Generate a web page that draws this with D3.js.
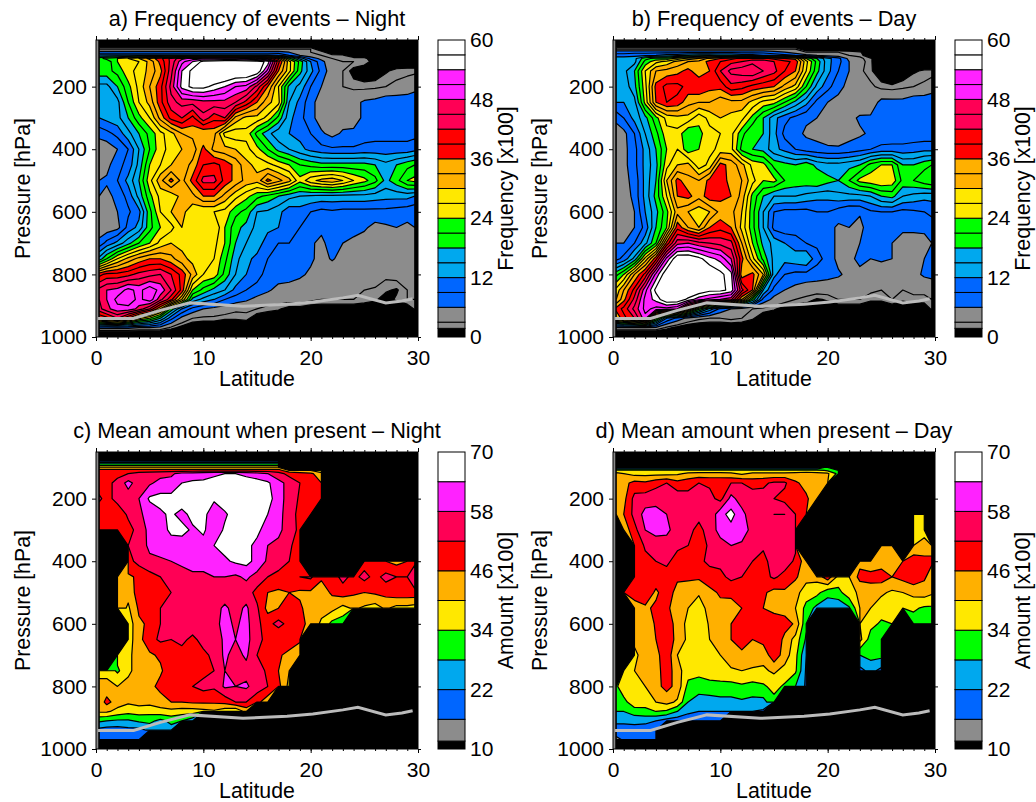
<!DOCTYPE html>
<html>
<head>
<meta charset="utf-8">
<script src="https://cdn.jsdelivr.net/npm/d3@7"></script>
<style>
body { margin: 0; background: #fff; }
text { font-family: "Liberation Sans", Arial, sans-serif; fill: #000; }
</style>
</head>
<body>
<script>
const n = null; // no data

const latitudes = [0.3,1,2,3,4,5,6,7,8,9,10,11,12,13,14,15,16,17,18,19,20,21,22,23,24,25,26,27,28,29,29.7];
const pressures = [70,80,90,100,110,120,150,200,250,300,350,400,450,500,550,600,650,700,750,800,850,880,910,940,970,985];

// rows follow pressures, columns follow latitudes; short rows are padded on the right
const freqNight = [
[],
[3,3,3,3,3,3,3,3,3,3,3,3,3,3,3,3,3,3,3,3,3],
[7,7,7,7,7,7,7,7,7,7,7,7,7,7,7,7,7,7,6,4,3,2.5],
[13,13,13,13,13,13,13,13,13,13,13,13,13,13,13,13,13,12,9,6,4,3,2.3,2],
[20,22,24,27,30,34,38,43,47,49,50,50,50,50,48,46,42,34,22,14,8,5,3,2.5,2.5,2.3],
[19,19,24,25,27,31,37,43,50,54,58,59,60,60,60,59,56,40,28,20,12,7,3.5,3,3,2.5,1],
[20,20,22,26,28,31,35,44,54,58,62,63,63,62,62,60,50,36,28,19,13,8,4,3,1,0.5,0.5,1.5,2.3,2.5,2.5],
[14,14,18,23,28,33,38,46,55,58,58,56,54,51,50,44,36,27,17,14,9,6,3.5,3,2.5,2.3,2.5,3,3.5,4,5],
[13,13,14,21,27,31,38,44,46,46,47,47,47,45,41,36,31,28,15,11,7,4.5,4,4,5,6.5,7,8,8,8,8],
[12,13,14,18,23,27,34,40,42,38,44,40,42,32,29,29,26,20,13,10,7,4.5,4,4.5,5,6.5,7,7.5,8,8,8],
[7,8,10,14,18,22,26,29,33,34,33,34,26,25,26,20,16,13,12,11,9,6.5,5,6.5,6.5,7.5,8,8,8,8,8],
[4,4,6,9,15,21,26,28,30,31,37,32,31,30,28,25,21,17,15,13,11,10,9.5,9.5,9.5,10,10,10,10,10,11],
[4,5,8,10,16,24,27,30,31,34,39,40,38,35,31,29,28,26,24,21,20,19,19,19,19,19,18,16,18,20,21],
[6,6.5,9,13,18,26,32,37,32,37,43,43,38,35,32,31,37,34,31,25,29,31,32,30,27,25,22,17,20,24,25],
[6,5,7,10,16,23,28,28,31,32,36,36,32,28,25,22,20,18,16,15,14.5,14,14,14,14,14,13.5,13,13,13,12],
[4,4,6,8.5,11,20,27,30,31,28,27,27,26,22,20,15,14.5,13,10,10.5,9,8,8.5,8,8,8,8,8,7.5,7,6.5],
[4,4,5,10,13,20,24,26,30,27,28,30,24,19,17,14,13,12,10,9,8,6.5,7.5,7,7.5,6.5,5,5.5,6,5.5,6],
[7,10,13,17,21,24,28,30,29,28,27,28,24,18,15,14,10,9,9,8,6.3,5.5,7,6,5,4.5,4.5,5,5.5,5,5],
[16,21,27,31,34,36,36,34,31,29,27,27,22,16,13,11,9,8.5,8,7,6.5,5,6.3,5,4,4,3,4,4,3,4],
[38,40,40,41,43,44,45,42,38,32,27,26,20,15,12,10,8,7.5,7,6.5,5.5,5,4,4,5,4,4,3.5,4,3.5,4],
[46,48,49,52,50,53,50,45,38,24,20,17,15,11,9,8,6.5,5,5,4.5,4.5,4,3.5,3.5,3.5,3,2.8,2,1.5,3,4],
[45,48,52,53,50,53,46,40,30,17,14,12,9,7.5,6.5,5,4,4,4,4,3.5,3,3,3,3,2.5,2,1,2,3,3],
[44,47,50,50,47,42,33,20,12,8,6,5,4.5,3.5,3.5,3,2.5,2,1,1,0.5,0.5,0.5,0.5,0.5,0.5,0.5,0.5,0.5,0.5,2],
[36,38,42,36,28,24,18,10,5,3,2.5,2.5,2,2,2.3,0.5,0,0,0,1,0,0,0,0,0,0,0,0,0,0,1.5],
[7,7,7,7,6,6,5,2.5,1],
[]
];

const freqDay = [
[],
[3,3,3,3,3,3,3,3,3,3,3,3,3,3,3,3,3,3],
[8,8,8,8,8,8,8,8,8,8,8,8,8,8,8,7,6,4,3,3,3,3,2.5,2],
[10,10,11,11,12,13,14,15,16,16,15,15,14,13,12,11,10,9,7,6,5,4,3,2.5],
[14,14,14,20,22,22,25,28,30,34,36,38,40,40,40,38,36,35,24,18,13,10,5,3.5,2],
[13,13,14,22,26,28,31,33,34,37,39,41,42,44,44,42,40,38,28,20,13,10,6,4,2],
[13,14,18,27,33,34,35,37,34,36,42,46,47,48,45,43,39,36,27,19,13,9,6,3.5,2,0.5,0,0.5,1.5,2,2],
[12,13,17,26,37,40,40,38,39,37,37,41,40,38,37,36,32,29,21,14,10,7,5,4,3.5,2.3,2,2.5,3,3.5,4.5],
[12,12,14,25,36,39,38,34,33,33,31,32,32,29,26,25,21,17,13,8,6,5,4,3.5,4,7,7,7,8,8,8],
[7,9,13,17,23,28,29,29,25,28,30,29,28,23,18,13,10,8,6.5,6,5,5,5,6.5,6.5,7,7,6,7,7,8],
[4,5,9,15,20,26,26,21,23,26,27,28,22,18,18,13,8,7,5.5,5,4.5,4,5,5.5,6.5,6.5,7,7,7,7,7],
[5,5,8,13,18,24,27,22,24,26,28,28,20,18,17,13,11,9,7.5,7,6.5,6.5,7,8,9,10,10,10,10.5,11,11],
[4,5,8,13,17,26,30,31,25,28,37,35,31,26,25,20,19,18,20,17,16,16,17,18,22,24,24,18,18,20,21],
[5,5,7,13,18,30,37,34,33,37,39,34,33,28,24,25,21,20,20,21,19,18,21,25,26,27,26,20,21,23,24],
[4,4,7,13,19,27,36,37,34,38,37,36,32,23,18,15,15,15,14,13,13,14,14,14,15,18,19,15,14,13,13],
[3,3,6,12,17,23,32,30,28,30,34,34,30,22,15,9,8,8,8,9,9,7.5,6,6.2,8.5,9,9,8,8.5,9,10],
[4,4,6,10,18,24,38,33,30,36,38,36,29,22,15,8,7,8,7,8,7,5.5,6,5.5,7,6,6.5,6.5,6.5,7,7],
[6,6,9,14,21,37,47,48,46,45,44,43,33,24,17,14,12,10,9,8.5,7,5.5,5,6,7,6.5,6,5,5,4.5,6],
[8,10,16,28,38,52,60,60,58,55,53,48,37,28,20,14,13,14,15,10,8,5,5,7,6,6.5,6,4.5,5,6,7],
[20,24,33,40,52,60,66,66,65,60,58,55,34,37,30,13,9,8,8,7.5,7,6.5,5,5,5,4,4,4,5,6.5,7],
[28,33,40,50,58,62,65,62,60,58,58,56,43,36,15,8,6,5,4,4,4,3.5,3.5,3.5,3.5,3,3,3,3.5,3.5,3.5],
[30,35,43,52,55,60,60,56,52,50,48,46,33,20,8,5,4,3,2.5,1.5,2,3,3,3,2,2,3,2,2.5,2.5,3],
[37,40,46,52,50,50,48,35,22,14,8,6,4.5,3,2.5,2,1,0.5,0.5,0.5,0.5,0.5,0.5,0.5,0.5,0.5,0.5,0.5,0.5,0.5,2],
[33,38,42,50,25,12,8,5,3.5,3,3,3.5,3,2,0.5,0,0,0,0,0,0,0,0,0,0,0,0,0,0,0,1],
[6,6,6,6,5.5,2.5,1],
[]
];

const amountNight = [
[],
[16,16,16,16,16,16,16,16,16,16,16,16,16,16,16,16,16,16],
[30,30,30,30,30,30,30,30,30,30,30,30,30,30,30,30,30,30],
[41,41,41,41,41,41,41,41,41,41,41,41,41,41,41,41,41,41],
[49,49,49,49,49,49,49,49,49,49,49,49,49,49,49,49,49,49,41,42,40,33],
[47,48,50,52,54,55,56,57,60,61,62,63,64,64,62,60,58,54,50,48,47,43],
[49,50,54,60,55,57,60,60,64,65,65,66,67,68,68,67,65,60,56,52,49,46],
[53,50,54,55,58,65,66,66,68,64,66,65,68,68,68,67,67,60,56,51,50,47],
[48,50,48,53,57,60,63,65,62,66,66,60,63,67,67,66,64,60,55,50,46],
[49,48,48,50,54,60,62,65,66,63,65,60,65,66,64,65,62,59,56,50],
[n,n,n,52,53,60,61,62,61,63,62,64,66,67,65,63,58,57,53,49],
[n,n,n,50,54,56,57,58,59,60,60,60,63,65,66,62,57,55,52,48,n,n,n,n,n,49,50,46,44,46,50],
[n,n,44,45,47,50,52,53,56,57,57,58,58,57,59,56,52,50,50,52,53,47,49,54,50,54,50,54,52,52,58],
[n,n,43,42,49,47,49,52,54,54,54,53,55,57,55,50,46,45,46,45,45,43,47,49,47,46,47,48,50,50,50],
[n,n,44,39,47,50,52,54,55,55,54,56,59,56,59,53,44,46,48,47,43,42,42,38,41,39,37,41,38,38,37],
[n,n,n,36,45,47,52,55,58,57,58,56,60,57,60,53,50,54,50,48,44,39,32,30],
[n,n,n,37,44,50,53,52,54,50,55,52,60,58,60,54,50,46,50,47],
[n,n,36,38,44,45,47,50,49,52,50,54,59,56,59,52,48,47,44,42],
[38,38,33,38,44,44,45,50,47,50,50,52,58,54,56,57,50,46,40],
[42,42,40,43,44,44,48,48,50,52,54,53,59,58,59,55,52,48,38],
[42,48,43,41,42,42,43,46,46,47,47,47,48,52,52,48,42],
[41,41,38,36,37,36,38,38,37,37,38,39,36,34,42],
[29,28,27,27,29,30,26,30,28,24],
[20,19,19,20,20,23,24,25],
[19,19,17,18,20],
[]
];

const amountDay = [
[],
[],
[],
[17,17,17,17,17,17,17,17,17,17,17,17,17,17,17,17,17,17,17,17,33],
[36,36,36,36,36,36,36,36,36,36,36,36,36,36,36,36,36,36,36,36,33,28],
[42,40,38,38,38,38,39,41,42,42,42,41,39,41,41,41,41,42,43,42,41,32],
[43,44,48,47,50,52,48,50,52,51,51,52,52,50,51,53,53,47,44,43,41],
[46,44,54,55,56,57,56,54,54,54,50,60,55,55,54,52,50,50,47,42],
[42,46,54,60,60,58,54,56,54,53,62,66,60,54,56,58,58,52,46,n,n,n,n,n,n,n,n,n,38,38],
[n,42,50,58,60,59,56,54,50,55,60,62,61,56,52,54,56,53,n,n,n,n,n,n,n,n,n,n,38,38],
[n,n,46,53,55,56,54,52,49,53,56,58,57,55,53,53,55,53,n,n,n,n,n,n,n,46,44,n,40,42,44],
[n,n,46,50,52,54,48,50,51,53,53,55,56,52,50,55,55,51,42,n,n,n,n,44,42,43,42,46,50,48,47],
[n,n,46,50,49,48,47,47,47,50,51,53,52,50,50,53,50,47,42,42,50,38,40,48,48,49,46,48,50,47,43],
[n,46,47,50,45,49,44,43,41,44,47,49,50,52,47,44,45,42,37,36,30,32,38,41,43,41,39,40,42,43,41],
[n,n,45,45,47,48,41,40,36,43,44,41,46,50,46,43,43,40,32,26,24,23,27,40,40,37,36,36,35,33,33],
[n,n,43,41,47,52,42,39,34,41,44,46,52,48,47,52,49,45,29,n,n,n,n,40,36,33,34,n,31,32,30],
[n,n,42,44,46,52,43,39,37,40,43,46,52,46,48,52,44,38,27,n,n,n,n,42,31,33],
[n,n,38,44,44,50,40,37,36,36,40,44,43,44,42,50,43,36,22,n,n,n,n,28,30,30],
[n,34,40,44,43,50,42,37,36,37,38,39,40,39,39,41,38,35,21,n,n,n,n,20,24,20],
[33,38,38,40,44,48,44,32,31,32,32,32,33,32,33,36,33,28,21],
[29,32,38,37,40,42,39,28,25,25,26,26,27,26,26,32],
[28,28,31,32,34,33,28,23,22,22,22,23,22,22,21],
[23,23,24,24,22,19,18,19,18,19,17],
[20,20,19,18,18],
[14,17,17,16,16],
[]
];

// grey line drawn over every panel
const lineLat = [0,3.5,6,8.75,13.7,17.8,20.2,23,24.4,27,28.5,29.5];
const linePres = [941,941,915,891,902,895,888,875,867,891,885,878];

const freqLevels = [0,1.75,3,6,9,12,15,18,21,24,27,30,33,36,39,42,45,48,51,54,57,60];
const freqColors = ["#000000","#8c8c8c","#8c8c8c","#0066ff","#0066ff","#00a8ee","#00a8ee","#00ff00","#00ff00","#ffe800","#ffe800",
    "#ffb000","#ffb000","#ff0000","#ff0000","#ff0055","#ff0055","#ff22ff","#ff22ff","#ffffff","#ffffff"];
const freqTicks = [0,12,24,36,48,60];

const amtLevels = [10,11.6,16,22,28,34,40,46,52,58,64,70];
const amtColors = ["#000000","#8c8c8c","#0066ff","#00a8ee","#00ff00","#ffe800","#ffb000","#ff0000","#ff0055","#ff22ff","#ffffff"];
const amtTicks = [10,22,34,46,58,70];

const latTicks = [0,10,20,30];
const presTicks = [200,400,600,800,1000];

const panels = [
    {title: "a) Frequency of events \u2013 Night", grid: freqNight, fill: 0, lv: freqLevels, col: freqColors, tk: freqTicks, lab: "Frequency [x100]", x: 96, y: 40},
    {title: "b) Frequency of events \u2013 Day", grid: freqDay, fill: 0, lv: freqLevels, col: freqColors, tk: freqTicks, lab: "Frequency [x100]", x: 613, y: 40},
    {title: "c) Mean amount when present \u2013 Night", grid: amountNight, fill: n, lv: amtLevels, col: amtColors, tk: amtTicks, lab: "Amount [x100]", x: 96, y: 452},
    {title: "d) Mean amount when present \u2013 Day", grid: amountDay, fill: n, lv: amtLevels, col: amtColors, tk: amtTicks, lab: "Amount [x100]", x: 613, y: 452}
];

const W = 322, H = 297;
const svg = d3.select("body").append("svg").attr("width", 1036).attr("height", 802);

panels.forEach(function(p, k) {
    let g = svg.append("g").attr("transform", `translate(${p.x},${p.y})`);
    let x = d3.scaleLinear().domain([0, 30]).range([0, W]);
    let y = d3.scaleLinear().domain([1000, 51]).range([H, 0]);

    let nx = latitudes.length, ny = pressures.length;
    let iLat = d3.scaleLinear().domain(d3.range(nx)).range(latitudes).clamp(true);
    let iPres = d3.scaleLinear().domain(d3.range(ny)).range(pressures).clamp(true);
    let path = d3.geoPath(d3.geoTransform({
        point: function(a, b) { this.stream.point(x(iLat(a - 0.5)), y(iPres(b - 0.5))); }
    }));

    g.append("clipPath").attr("id", "clip" + k).append("rect").attr("width", W).attr("height", H);
    let plot = g.append("g").attr("clip-path", `url(#clip${k})`);
    plot.append("rect").attr("width", W).attr("height", H).attr("fill", "#000");

    let values = p.grid.map(r => r.concat(Array(nx - r.length).fill(p.fill))).flat();
    let contours = d3.contours().size([nx, ny]).thresholds(p.lv.slice(1, -1))(values);
    plot.selectAll("path.c").data(contours).enter().append("path")
        .attr("class", "c")
        .attr("d", path)
        .attr("fill", (d, i) => p.col[i + 1])
        .attr("stroke", "#000")
        .attr("stroke-width", 1.2)
        .attr("stroke-linejoin", "round");

    let line = d3.line().x(d => x(d[0])).y(d => y(d[1]));
    plot.append("path")
        .attr("d", line(d3.zip(lineLat, linePres)))
        .attr("fill", "none").attr("stroke", "#bbbbbb").attr("stroke-width", 3);

    // left edge bar
    plot.append("line").attr("x1", 1).attr("x2", 1).attr("y1", 0).attr("y2", H)
        .attr("stroke", "#888").attr("stroke-width", 2.5);

    g.append("rect").attr("width", W).attr("height", H).attr("fill", "none").attr("stroke", "#000").attr("stroke-width", 1);

    // ticks point outward on all four sides, minor ticks every degree
    g.append("g").attr("transform", `translate(0,${H})`).style("font-size", "21px")
        .call(d3.axisBottom(x).tickValues(latTicks).tickSizeInner(4).tickSizeOuter(0).tickPadding(9));
    g.append("g").style("font-size", "21px")
        .call(d3.axisLeft(y).tickValues(presTicks).tickFormat(d => d).tickSizeInner(4).tickSizeOuter(0).tickPadding(5));
    g.append("g").attr("transform", `translate(0,${H})`)
        .call(d3.axisBottom(x).ticks(30).tickSize(2).tickFormat(""));
    g.append("g").call(d3.axisTop(x).ticks(30).tickSize(2).tickFormat(""));
    g.append("g").call(d3.axisTop(x).tickValues(latTicks).tickSize(4).tickFormat(""));
    g.append("g").attr("transform", `translate(${W},0)`)
        .call(d3.axisRight(y).tickValues(presTicks).tickSize(3).tickFormat(""));
    g.selectAll(".domain").remove();

    g.append("text").attr("x", W / 2).attr("y", -14).attr("text-anchor", "middle")
        .style("font-size", "21.7px").text(p.title);
    g.append("text").attr("x", W / 2).attr("y", H + 49).attr("text-anchor", "middle")
        .style("font-size", "21.3px").text("Latitude");
    g.append("text").attr("transform", `translate(-66,${H / 2}) rotate(-90)`).attr("text-anchor", "middle")
        .style("font-size", "21.3px").text("Pressure [hPa]");

    // colour bar
    let bar = g.append("g").attr("transform", `translate(${W + 20},0)`);
    let c = d3.scaleLinear().domain(d3.extent(p.lv)).range([H, 0]);
    bar.selectAll("rect").data(p.col).enter().append("rect")
        .attr("x", 0).attr("width", 27)
        .attr("y", (d, i) => c(p.lv[i + 1]))
        .attr("height", (d, i) => c(p.lv[i]) - c(p.lv[i + 1]))
        .attr("fill", d => d)
        .attr("stroke", "#000").attr("stroke-width", 1);
    let barAxis = bar.append("g").attr("transform", "translate(27,0)").style("font-size", "21px")
        .call(d3.axisRight(c).tickValues(p.tk).tickSize(0).tickPadding(5));
    barAxis.select(".domain").remove();
    bar.append("text").attr("transform", `translate(75,${H / 2}) rotate(-90)`).attr("text-anchor", "middle")
        .style("font-size", "21.3px").text(p.lab);
});
</script>
</body>
</html>
